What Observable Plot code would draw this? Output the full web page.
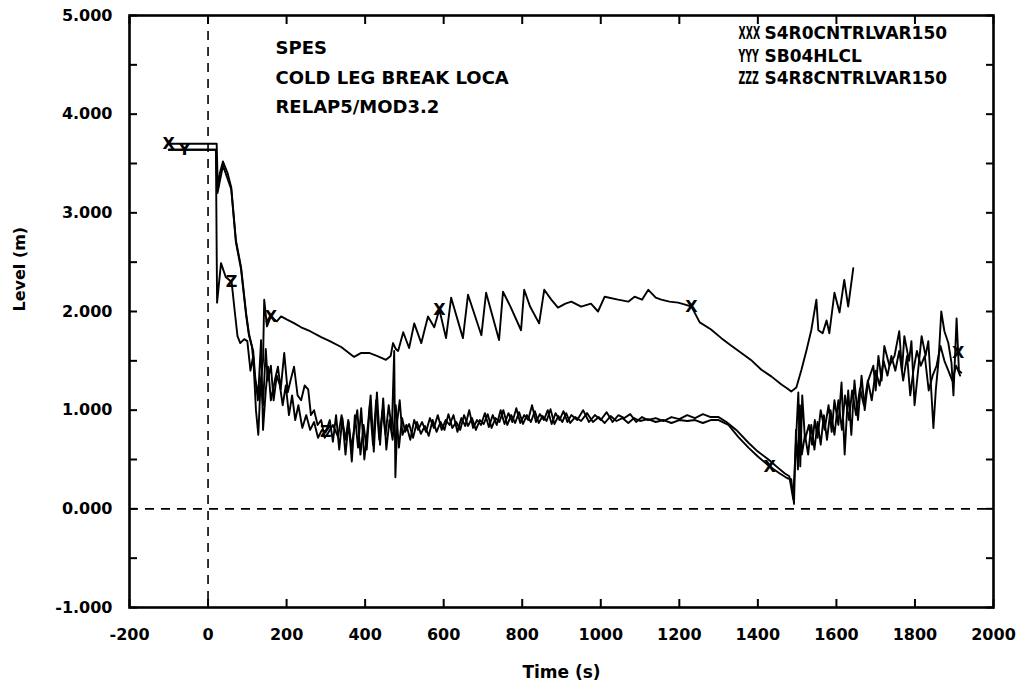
<!DOCTYPE html>
<html><head><meta charset="utf-8">
<script src="https://cdn.jsdelivr.net/npm/d3@7"></script>
<script src="https://cdn.jsdelivr.net/npm/@observablehq/plot@0.6"></script>
<style>body{margin:0;background:#fff}</style>
</head><body><div id="chart"></div>
<script>
const xTicks = [-200, 0, 200, 400, 600, 800, 1000, 1200, 1400, 1600, 1800, 2000];
const yTicks = [-1, -0.5, 0, 0.5, 1, 1.5, 2, 2.5, 3, 3.5, 4, 4.5, 5];
const seriesKeys = ["X", "Y", "Z"];
const seriesCodes = ["XXX", "YYY", "ZZZ"];
const seriesNames = ["S4R0CNTRLVAR150", "SB04HLCL", "S4R8CNTRLVAR150"];
const titleLines = ["SPES", "COLD LEG BREAK LOCA", "RELAP5/MOD3.2"];
const xLabel = "Time (s)";
const yLabel = "Level (m)";

// Upper curve
const timeX = [-100, 22, 25, 30, 38, 50, 59, 71, 84, 97, 104, 112, 120, 130, 140, 143, 150, 160, 175, 186, 200, 220, 237, 260, 288, 310, 339, 372, 390, 410, 430, 453, 465, 471, 478, 484, 497, 512, 525, 543, 560, 576, 589, 606, 619, 649, 662, 696, 708, 741, 751, 770, 797, 805, 820, 843, 856, 874, 891, 910, 925, 950, 975, 993, 1010, 1044, 1070, 1086, 1105, 1121, 1140, 1154, 1175, 1197, 1215, 1231, 1252, 1280, 1307, 1330, 1358, 1385, 1409, 1435, 1460, 1475, 1485, 1498, 1511, 1524, 1536, 1549, 1554, 1565, 1575, 1582, 1595, 1608, 1620, 1630, 1643];
const levelX = [3.70, 3.70, 3.23, 3.40, 3.52, 3.40, 3.26, 2.72, 2.45, 1.98, 1.78, 1.64, 1.30, 1.15, 1.50, 2.12, 1.85, 1.95, 1.90, 1.95, 1.92, 1.88, 1.84, 1.80, 1.74, 1.70, 1.64, 1.54, 1.58, 1.58, 1.55, 1.51, 1.55, 1.68, 1.62, 1.60, 1.79, 1.63, 1.88, 1.68, 1.95, 1.84, 2.02, 1.73, 2.14, 1.73, 2.17, 1.76, 2.19, 1.71, 2.20, 2.05, 1.81, 2.22, 2.05, 1.88, 2.22, 2.12, 2.04, 2.08, 2.10, 2.05, 2.08, 2.00, 2.15, 2.12, 2.10, 2.15, 2.12, 2.22, 2.14, 2.12, 2.10, 2.09, 2.07, 2.05, 1.89, 1.82, 1.73, 1.66, 1.58, 1.50, 1.41, 1.34, 1.26, 1.22, 1.19, 1.23, 1.41, 1.61, 1.81, 2.12, 1.81, 1.78, 1.91, 1.78, 2.19, 1.99, 2.32, 2.05, 2.44];

// Lower curve A
const timeY = [-100, 20, 24, 38, 59, 71, 84, 97, 104, 115, 120, 127, 135, 140, 147, 153, 160, 170, 178, 185, 194, 203, 210, 219, 228, 237, 246, 255, 262, 270, 279, 288, 297, 306, 318, 331, 340, 350, 357, 365, 372, 380, 388, 396, 404, 412, 420, 428, 436, 444, 452, 460, 468, 474, 477, 482, 488, 495, 505, 515, 525, 535, 545, 555, 565, 575, 585, 595, 605, 615, 625, 635, 645, 655, 665, 675, 685, 695, 705, 715, 725, 735, 745, 755, 765, 775, 785, 795, 805, 815, 825, 835, 845, 855, 865, 875, 885, 895, 905, 915, 925, 940, 955, 970, 985, 1000, 1015, 1030, 1045, 1060, 1075, 1090, 1105, 1120, 1140, 1160, 1180, 1200, 1220, 1240, 1260, 1280, 1300, 1320, 1345, 1376, 1400, 1427, 1450, 1468, 1480, 1490, 1496, 1503, 1508, 1513, 1520, 1530, 1538, 1545, 1552, 1560, 1570, 1580, 1588, 1595, 1605, 1613, 1621, 1630, 1638, 1646, 1655, 1664, 1672, 1681, 1694, 1700, 1707, 1715, 1722, 1735, 1748, 1760, 1767, 1773, 1785, 1791, 1799, 1808, 1817, 1827, 1834, 1840, 1847, 1853, 1860, 1867, 1875, 1885, 1893, 1898, 1906, 1912, 1918];
const levelY = [3.64, 3.64, 3.20, 3.48, 3.24, 2.70, 2.43, 1.96, 1.76, 1.60, 1.34, 1.10, 1.71, 0.80, 1.20, 1.44, 1.10, 1.30, 1.44, 1.21, 1.58, 1.18, 1.30, 1.44, 1.15, 1.10, 1.25, 1.21, 0.95, 1.00, 0.85, 0.90, 0.72, 0.77, 0.85, 0.73, 0.95, 0.70, 0.90, 0.62, 0.80, 1.00, 0.55, 0.85, 0.60, 1.05, 0.65, 1.10, 0.70, 1.00, 0.75, 1.05, 0.80, 1.60, 0.32, 0.90, 1.10, 0.75, 0.85, 0.70, 0.90, 0.80, 0.88, 0.78, 0.92, 0.82, 0.95, 0.80, 0.90, 0.85, 0.95, 0.78, 0.92, 0.84, 1.00, 0.82, 0.90, 0.85, 0.97, 0.83, 0.95, 0.85, 1.00, 0.86, 0.97, 0.88, 1.02, 0.87, 0.95, 0.90, 1.05, 0.88, 0.96, 0.90, 1.00, 0.86, 0.97, 0.90, 0.99, 0.88, 0.95, 0.90, 1.00, 0.88, 0.95, 0.90, 0.98, 0.88, 0.95, 0.92, 0.96, 0.88, 0.93, 0.90, 0.92, 0.89, 0.93, 0.91, 0.95, 0.92, 0.96, 0.93, 0.93, 0.88, 0.80, 0.67, 0.58, 0.50, 0.42, 0.36, 0.33, 0.10, 0.60, 1.18, 0.43, 1.15, 0.70, 0.85, 0.65, 0.90, 0.72, 1.00, 0.80, 1.05, 0.78, 1.10, 0.85, 1.28, 0.55, 1.20, 0.75, 1.30, 0.90, 1.35, 1.00, 1.30, 1.45, 1.20, 1.55, 1.30, 1.65, 1.45, 1.55, 1.80, 1.40, 1.75, 1.50, 1.70, 1.05, 1.40, 1.75, 1.55, 1.70, 1.30, 0.82, 1.20, 1.50, 2.00, 1.80, 1.68, 1.48, 1.15, 1.93, 1.40, 1.38];

// Lower curve B
const timeZ = [-100, 20, 23, 33, 45, 60, 68, 75, 82, 92, 100, 108, 115, 122, 128, 134, 140, 147, 152, 160, 167, 175, 183, 190, 198, 206, 214, 222, 230, 240, 250, 260, 270, 280, 290, 300, 310, 318, 326, 334, 342, 350, 358, 366, 374, 382, 390, 398, 406, 414, 422, 430, 438, 446, 454, 462, 470, 478, 486, 494, 502, 512, 522, 532, 542, 552, 562, 572, 582, 592, 602, 612, 622, 632, 642, 652, 662, 672, 682, 692, 702, 712, 722, 732, 742, 752, 762, 772, 782, 792, 802, 812, 822, 832, 842, 852, 862, 872, 882, 892, 902, 912, 922, 935, 950, 965, 980, 995, 1010, 1025, 1040, 1055, 1070, 1085, 1100, 1120, 1140, 1160, 1180, 1200, 1220, 1240, 1260, 1280, 1300, 1325, 1350, 1376, 1400, 1430, 1455, 1475, 1485, 1492, 1497, 1502, 1507, 1512, 1520, 1528, 1536, 1544, 1552, 1560, 1568, 1576, 1585, 1595, 1605, 1614, 1622, 1632, 1640, 1650, 1660, 1670, 1680, 1690, 1700, 1710, 1720, 1730, 1740, 1750, 1760, 1770, 1780, 1788, 1796, 1805, 1815, 1825, 1835, 1845, 1855, 1865, 1875, 1885, 1895, 1905, 1915];
const levelZ = [3.64, 3.64, 2.09, 2.49, 2.35, 2.30, 2.00, 1.75, 1.68, 1.72, 1.70, 1.40, 1.55, 1.00, 0.75, 1.30, 1.05, 1.62, 1.30, 1.45, 1.10, 1.35, 1.25, 1.05, 1.25, 0.95, 1.15, 0.90, 1.05, 0.82, 0.95, 0.80, 0.88, 0.72, 0.80, 0.78, 0.90, 0.68, 0.95, 0.60, 0.92, 0.55, 0.88, 0.48, 0.95, 0.62, 1.02, 0.50, 0.80, 1.15, 0.58, 1.18, 0.65, 1.12, 0.60, 0.90, 0.70, 1.05, 0.62, 0.92, 0.78, 0.86, 0.72, 0.88, 0.76, 0.84, 0.74, 0.90, 0.78, 0.88, 0.80, 0.96, 0.82, 0.88, 0.80, 0.95, 0.84, 0.92, 0.80, 0.90, 0.86, 0.96, 0.82, 0.92, 0.88, 1.00, 0.85, 0.95, 0.87, 0.98, 0.86, 0.95, 0.88, 0.99, 0.87, 0.94, 0.89, 1.01, 0.86, 0.94, 0.88, 0.97, 0.87, 0.93, 0.89, 0.97, 0.88, 0.93, 0.87, 0.94, 0.89, 0.92, 0.87, 0.92, 0.89, 0.91, 0.88, 0.90, 0.87, 0.90, 0.89, 0.90, 0.87, 0.90, 0.90, 0.85, 0.73, 0.62, 0.53, 0.43, 0.36, 0.31, 0.30, 0.05, 0.80, 0.40, 1.05, 0.55, 0.75, 0.55, 0.85, 0.60, 0.88, 0.65, 0.95, 0.70, 1.00, 0.75, 1.10, 0.80, 1.15, 0.90, 1.20, 0.95, 1.22, 1.05, 1.30, 1.10, 1.40, 1.25, 1.50, 1.35, 1.55, 1.40, 1.60, 1.30, 1.55, 1.15, 1.40, 1.60, 1.45, 1.55, 1.20, 1.35, 1.45, 1.65, 1.50, 1.40, 1.30, 1.45, 1.35];

// Curve symbols placed along the curves
const markerSeries = ["X", "Y", "Z", "X", "Z", "X", "X", "Z", "Y"];
const markerTime = [-100, -60, 60, 160, 300, 589, 1231, 1430, 1910];
const markerGlyph = ["X", "Y", "Z", "X", "Z", "X", "X", "X", "X"];

const seriesData = {
  X: {t: timeX, v: levelX},
  Y: {t: timeY, v: levelY},
  Z: {t: timeZ, v: levelZ}
};
const rows = seriesKeys.flatMap(s => seriesData[s].t.map((t, i) => ({s, t, v: seriesData[s].v[i]})));
function levelAt(s, t) {
  const {t: ts, v: vs} = seriesData[s];
  const i = Math.max(1, Math.min(ts.length - 1, d3.bisectLeft(ts, t)));
  const f = (t - ts[i - 1]) / (ts[i] - ts[i - 1]);
  return vs[i - 1] + f * (vs[i] - vs[i - 1]);
}
const markers = markerTime.map((t, i) => ({t, v: levelAt(markerSeries[i], t), g: markerGlyph[i]}));

const fmtY = d => Number.isInteger(d) ? d.toFixed(3).replace("\u2212", "-") : "";
const fmtX = d => String(d);
const codesText = seriesCodes.join("\n");

const chart = Plot.plot({
  width: 1026,
  height: 689,
  marginLeft: 129,
  marginRight: 33,
  marginTop: 15,
  marginBottom: 82,
  style: {fontFamily: "'DejaVu Sans', sans-serif", fontSize: "16px", fontWeight: "bold", color: "black", background: "white"},
  x: {domain: [-200, 2000]},
  y: {domain: [-1, 5]},
  marks: [
    Plot.ruleX([0], {stroke: "black", strokeWidth: 1.6, strokeDasharray: "9,7"}),
    Plot.ruleY([0], {stroke: "black", strokeWidth: 1.6, strokeDasharray: "9,7"}),
    Plot.line(rows, {x: "t", y: "v", z: "s", stroke: "black", strokeWidth: 1.9, curve: "linear"}),
    Plot.text(markers, {x: "t", y: "v", text: "g", fontSize: 16, fontWeight: "bold", fill: "black"}),
    Plot.axisX({anchor: "bottom", ticks: xTicks, tickSize: -8, tickPadding: 29, tickFormat: fmtX, label: null, strokeWidth: 2}),
    Plot.axisX({anchor: "top", ticks: xTicks, tickSize: -8, tickFormat: () => "", label: null, strokeWidth: 2}),
    Plot.axisY({anchor: "left", ticks: yTicks, tickSize: -8, tickPadding: 25, tickFormat: fmtY, label: null, strokeWidth: 2}),
    Plot.axisY({anchor: "right", ticks: yTicks, tickSize: -8, tickFormat: () => "", label: null, strokeWidth: 2}),
    Plot.frame({stroke: "black", strokeWidth: 2.6}),
    Plot.text([xLabel], {frameAnchor: "bottom", lineAnchor: "top", dy: 58, fontSize: 17, fontWeight: "bold"}),
    Plot.text([yLabel], {frameAnchor: "left", rotate: -90, lineAnchor: "middle", dx: -110, fontSize: 16, fontWeight: "bold"}),
    Plot.text([titleLines.join("\n")], {frameAnchor: "top-left", textAnchor: "start", lineAnchor: "top", dx: 146, dy: 18, fontSize: 18, fontWeight: "bold", lineHeight: 1.64}),
    Plot.text([codesText], {frameAnchor: "top-left", textAnchor: "start", lineAnchor: "top", dx: 609, dy: 8, fontSize: 17, fontWeight: "bold", lineHeight: 1.32}),
    Plot.text([seriesNames.join("\n")], {frameAnchor: "top-left", textAnchor: "start", lineAnchor: "top", dx: 635, dy: 8, fontSize: 17, fontWeight: "bold", lineHeight: 1.32})
  ]
});
document.getElementById("chart").appendChild(chart);
// narrow the curve-symbol codes of the legend
d3.select(chart).selectAll("text").filter(function() {
  return this.textContent === seriesCodes.join("");
}).each(function() {
  const tr = this.getAttribute("transform") || "";
  this.setAttribute("transform", tr + " scale(0.55,1)");
});
</script>
</body></html>
